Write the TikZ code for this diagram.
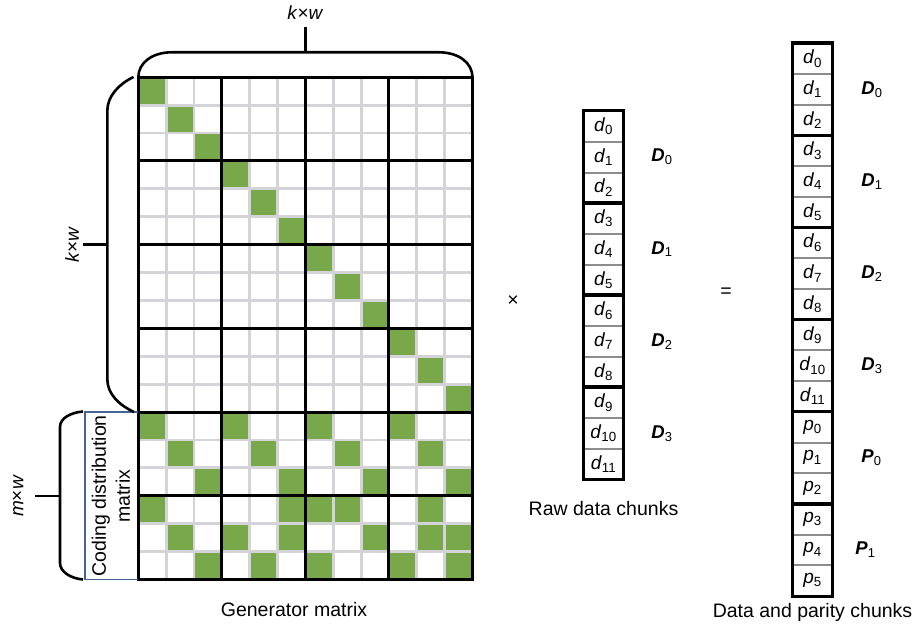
\documentclass[tikz,border=0pt]{standalone}
\usepackage{fontspec}
\setmainfont{Liberation Sans}
\usetikzlibrary{positioning, calc}
\definecolor{cellgreen}{RGB}{121,168,74}
\definecolor{gridgray}{RGB}{212,212,216}
\definecolor{codeblue}{RGB}{68,100,150}
\newcommand{\chunk}[2]{\textit{#1}\textsubscript{#2}}
\newcommand{\blocklab}[2]{\textbf{\textit{#1}}\textsubscript{#2}}
\tikzset{
  chunkcell/.style={
    rectangle, inner sep=0pt,
    minimum width=39pt, minimum height=30.7pt,
    font=\fontsize{19}{22}\selectfont
  },
  blocklabel/.style={inner sep=0pt, font=\fontsize{18.5}{21}\selectfont},
  captiontext/.style={inner sep=0pt, align=center, font=\fontsize{19.5}{24}\selectfont},
  dimlabel/.style={inner sep=0pt, font=\fontsize{19}{22}\selectfont},
  gridline/.style={draw=gridgray, line width=2.8pt},
  blockline/.style={draw=black, line width=3pt, line cap=rect},
  brace/.style={draw=black, line width=2.6pt},
  codeframe/.style={draw=codeblue, line width=1.8pt},
  sepline/.style={draw=black!45, line width=2pt},
  chunkbox/.style={draw=black, line width=3.2pt}
}

\begin{document}
\begin{tikzpicture}[x=1pt, y=-1pt]
\useasboundingbox (0,0) rectangle (922,628);

% Generator matrix corners
\coordinate (G-nw) at (138.3,77.3);
\coordinate (G-ne) at (472.5,77.3);
\coordinate (G-cw) at (138.3,412.1);
\coordinate (G-sw) at (138.3,579.5);

% Identity part and coding part (green entries)
\foreach \i in {0,...,11}
  \fill[cellgreen] (138.3+27.85*\i, 77.3+27.9*\i) rectangle ++(27.85,27.9);
\foreach \r/\cols in {12/{0,3,6,9}, 13/{1,4,7,10}, 14/{2,5,8,11},
                      15/{0,5,6,7,10}, 16/{1,3,5,8,10,11}, 17/{2,4,6,9,11}}
  \foreach \c in \cols
    \fill[cellgreen] (138.3+27.85*\c, 77.3+27.9*\r) rectangle ++(27.85,27.9);

% Bit grid, then w x w blocks
\foreach \c in {0,...,12}
  \draw[gridline] (138.3+27.85*\c, 77.3) -- ++(0,502.2);
\foreach \r in {0,...,18}
  \draw[gridline] (138.3, 77.3+27.9*\r) -- ++(334.2,0);
\foreach \c in {0,3,...,12}
  \draw[blockline] (138.3+27.85*\c, 77.3) -- ++(0,502.2);
\foreach \r in {0,3,...,18}
  \draw[blockline] (138.3, 77.3+27.9*\r) -- ++(334.2,0);

% Coding distribution matrix frame
\draw[codeframe] (G-cw) -- ++(-53.3,0) |- (G-sw);
\node[captiontext, rotate=90] (codelabel) at (111,496) {Coding distribution\\matrix};

% Brace on top: k x w columns
\coordinate (topmid) at (305.4,52.3);
\coordinate (toptip) at (305.4,27);
\draw[brace] (G-nw) .. controls (138.3,63) and (152,52.3) .. (171.7,52.3)
  -- (438.8,52.3) .. controls (458.8,52.3) and (472.5,63) .. (G-ne);
\draw[brace] (topmid) -- (toptip);
\node[dimlabel] (kwtop) at (305.4,13) {\textit{k}×\textit{w}};

% Brace on the left: k x w rows
\coordinate (leftmid) at (107.3,244.7);
\coordinate (lefttip) at (83,244.7);
\draw[brace] (133.5,77) .. controls (119,84) and (107.3,96) .. (107.3,111)
  -- (107.3,379) .. controls (107.3,394) and (119,405) .. (134,412);
\draw[brace] (leftmid) -- (lefttip);
\node[dimlabel, rotate=90] (kwleft) at (72,244.7) {\textit{k}×\textit{w}};

% Brace on the left: m x w rows
\coordinate (codemid) at (60,496);
\coordinate (codetip) at (35,496);
\draw[brace] (83,411.5) .. controls (71,412.5) and (60,418) .. (60,427)
  -- (60,563) .. controls (60,572) and (71,578.5) .. (83,579.5);
\draw[brace] (codemid) -- (codetip);
\node[dimlabel, rotate=90] (mwleft) at (18,496) {\textit{m}×\textit{w}};

\node[captiontext] (gencap) at (294,610) {Generator matrix};

% Raw data column
\node[captiontext] (times) at (513,301) {×};
\foreach \i in {0,...,11}
  \node[chunkcell] (raw\i) at (603.5,126.35+30.7*\i) {\chunk{d}{\i}};
\foreach \i in {0,1,3,4,6,7,9,10}
  \draw[sepline] (raw\i.south west) -- (raw\i.south east);
\foreach \a/\b in {0/2,3/5,6/8,9/11}
  \draw[chunkbox] (raw\a.north west) rectangle (raw\b.south east);
\foreach \k/\m in {0/1,1/4,2/7,3/10}
  \node[blocklabel, right=28pt of raw\m] (rawD\k) {\blocklab{D}{\k}};
\node[captiontext, below=22pt of raw11] (rawcap) {Raw data chunks};

% Data and parity column
\node[captiontext] (equals) at (726,293) {=};
\foreach \i in {0,...,17} {
  \pgfmathtruncatemacro\pidx{\i-12}
  \ifnum\i<12 \def\chunktext{\chunk{d}{\i}}\else\def\chunktext{\chunk{p}{\pidx}}\fi
  \node[chunkcell] (out\i) at (812.5,58.65+30.7*\i) {\chunktext};
}
\foreach \i in {0,1,3,4,6,7,9,10,12,13,15,16}
  \draw[sepline] (out\i.south west) -- (out\i.south east);
\foreach \a/\b in {0/2,3/5,6/8,9/11,12/14,15/17}
  \draw[chunkbox] (out\a.north west) rectangle (out\b.south east);
\foreach \k/\m in {0/1,1/4,2/7,3/10}
  \node[blocklabel, right=29pt of out\m] (outD\k) {\blocklab{D}{\k}};
\node[blocklabel, right=29pt of out13] (outP0) {\blocklab{P}{0}};
\node[blocklabel, right=23pt of out16] (outP1) {\blocklab{P}{1}};
\node[captiontext, below=7pt of out17] (outcap) {Data and parity chunks};

\end{tikzpicture}
\end{document}
